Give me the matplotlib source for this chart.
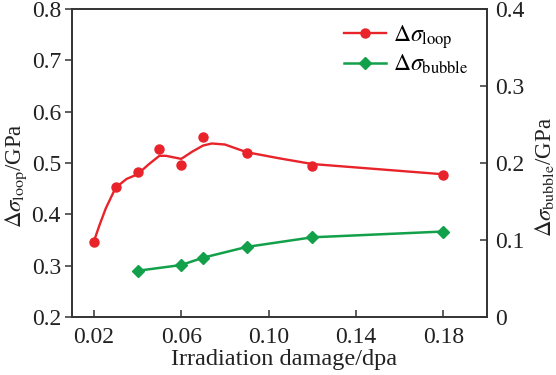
import matplotlib
matplotlib.use("Agg")
import matplotlib.pyplot as plt

plt.rcParams['font.family'] = ['Liberation Serif', 'DejaVu Serif']
plt.rcParams['mathtext.fontset'] = 'stix'

# measured points, loop hardening (left axis)
loop_dpa = [0.02, 0.03, 0.04, 0.05, 0.06, 0.07, 0.09, 0.12, 0.18]
loop_gpa = [0.346, 0.453, 0.482, 0.528, 0.496, 0.551, 0.520, 0.495, 0.477]

# smooth trend curve drawn through the loop data
curve_dpa = [0.02, 0.0225, 0.0255, 0.03, 0.035, 0.04, 0.045, 0.05, 0.053,
             0.06, 0.065, 0.07, 0.074, 0.08, 0.09, 0.105, 0.12, 0.15, 0.18]
curve_gpa = [0.347, 0.378, 0.412, 0.452, 0.469, 0.478, 0.497, 0.514, 0.514,
             0.508, 0.522, 0.534, 0.538, 0.536, 0.521, 0.509, 0.498, 0.488, 0.478]

# bubble hardening (right axis)
bubble_dpa = [0.04, 0.06, 0.07, 0.09, 0.12, 0.18]
bubble_gpa = [0.060, 0.0675, 0.077, 0.091, 0.1035, 0.111]

xticks = [0.02, 0.06, 0.10, 0.14, 0.18]
xtick_labels = ['0.02', '0.06', '0.10', '0.14', '0.18']
yticks_left = [0.2, 0.3, 0.4, 0.5, 0.6, 0.7, 0.8]
yticks_right = [0, 0.1, 0.2, 0.3, 0.4]

RED = '#e8232a'
GREEN = '#12a04a'
AXC = '#333333'
TXT = '#222222'

fig = plt.figure(figsize=(5.56, 3.75), dpi=100)
ax = fig.add_axes([0.1295, 0.1547, 0.7465, 0.8213])
ax2 = ax.twinx()

ax.plot(curve_dpa, curve_gpa, color=RED, lw=1.7, zorder=2)
ax.plot(loop_dpa, loop_gpa, 'o', color=RED, ms=6.5, zorder=3)
ax2.plot(bubble_dpa, bubble_gpa, color=GREEN, lw=1.8, marker='D', ms=6.5, zorder=3)

ax.set_xlim(0.01, 0.20)
ax.set_ylim(0.2, 0.8)
ax2.set_ylim(0, 0.4)
ax.set_xticks(xticks)
ax.set_xticklabels(xtick_labels)
ax.set_yticks(yticks_left)
ax.set_yticklabels([f'{v:.1f}' for v in yticks_left])
ax2.set_yticks(yticks_right)
ax2.set_yticklabels(['0' if v == 0 else f'{v:.1f}' for v in yticks_right])

for a in (ax, ax2):
    for s in a.spines.values():
        s.set_color(AXC)
        s.set_linewidth(1.2)
ax.tick_params(axis='y', direction='out', length=5, width=1.1, color=AXC,
               labelsize=17, labelcolor=TXT, pad=3)
ax.tick_params(axis='x', direction='in', length=5, width=1.1, color=AXC,
               labelsize=17, labelcolor=TXT, pad=7)
ax2.tick_params(axis='y', direction='in', length=5, width=1.1, color=AXC,
                labelsize=17, labelcolor=TXT, pad=6)

ax.set_xlabel('Irradiation damage/dpa', fontsize=17.5, color=TXT)
ax.xaxis.set_label_coords(0.51, -0.105)
ax.set_ylabel(r'$\Delta\sigma_{\mathrm{loop}}$/GPa', fontsize=16.5, color=TXT)
ax.yaxis.set_label_coords(-0.103, 0.46)
ax2.set_ylabel(r'$\Delta\sigma_{\mathrm{bubble}}$/GPa', fontsize=16.5, color=TXT,
               rotation=90)
ax2.yaxis.set_label_coords(1.11, 0.455)

h1, = ax.plot([], [], color=RED, lw=1.7, marker='o', ms=6.5)
h2, = ax.plot([], [], color=GREEN, lw=1.8, marker='D', ms=6.5)
ax.legend([h1, h2], [r'$\Delta\sigma_{\mathrm{loop}}$', r'$\Delta\sigma_{\mathrm{bubble}}$'],
          loc='upper left', bbox_to_anchor=(0.655, 0.955), frameon=False,
          borderpad=0, borderaxespad=0, fontsize=17, handlelength=1.8,
          handletextpad=0.3, labelspacing=0.1)

fig.savefig('out.png', dpi=100)
